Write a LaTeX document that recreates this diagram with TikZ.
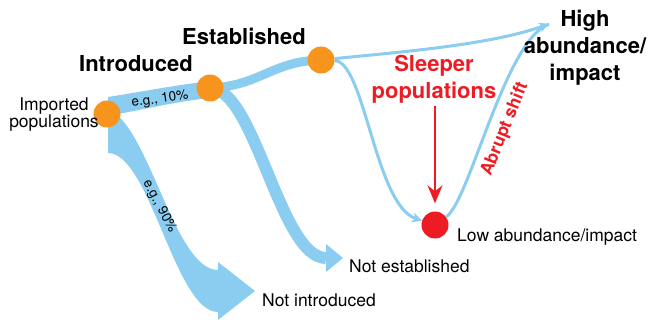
\documentclass[tikz,border=0pt]{standalone}
\usepackage{fontspec}
\setmainfont{TeX Gyre Heros}
\usetikzlibrary{arrows.meta,backgrounds}
\definecolor{bandblue}{RGB}{139,205,240}
\definecolor{dotorange}{RGB}{247,148,30}
\definecolor{dotred}{RGB}{237,28,36}
\begin{document}
\begin{tikzpicture}[x=1pt,y=-1pt,
  odot/.style={circle,fill=dotorange,inner sep=0pt,minimum size=27pt},
  rdot/.style={circle,fill=dotred,inner sep=0pt,minimum size=27pt},
  band/.style={fill=bandblue},
  thinline/.style={draw=bandblue,line width=3pt},
  thinarrow/.style={thinline,-{Stealth[length=10pt,width=10pt,inset=3pt]}},
  redarrow/.style={draw=dotred,line width=1.8pt,-{Stealth[length=18pt,width=15pt,inset=6pt]}},
  bigbold/.style={inner sep=0pt,font=\fontsize{22}{27}\selectfont\bfseries},
  redbold/.style={inner sep=0pt,text=dotred,font=\fontsize{22}{26.5}\selectfont\bfseries},
  smallred/.style={inner sep=0pt,text=dotred,font=\fontsize{17.5}{20}\selectfont\bfseries},
  med/.style={inner sep=0pt,font=\fontsize{17.5}{17}\selectfont},
  small/.style={inner sep=0pt,font=\fontsize{13.5}{15}\selectfont}]
\useasboundingbox (0,0) rectangle (651,326);
% dots
\node[odot] (imp) at (107,114) {};
\node[odot] (intro) at (210,88) {};
\node[odot] (est) at (321,60) {};
\node[rdot] (low) at (435,225) {};
\coordinate (hightip) at (549,24);
\coordinate (nitip) at (255,291);
\coordinate (netip) at (343,258);
% labels
\node[bigbold,anchor=base] (introlbl) at (136,72) {Introduced};
\node[bigbold,anchor=base] (estlbl) at (244,45) {Established};
\node[bigbold,align=center] (high) at (585,47.4) {High\\abundance/\\impact};
\node[redbold,align=center] (sleeper) at (434,79.4) {Sleeper\\populations};
\node[med,align=center] (implbl) at (54,115) {Imported\\populations};
\node[med,anchor=base west] (lowlbl) at (457,241) {Low abundance/impact};
\node[med,anchor=base west] (nelbl) at (349,272) {Not established};
\node[med,anchor=base west] (nilbl) at (262,306) {Not introduced};
\node[small,rotate=8] (ten) at (160,99.5) {e.g., 10\%};
\node[small,rotate=-62] (ninety) at (159.5,206.5) {e.g., 90\%};
\node[smallred,rotate=68] (abrupt) at (505,129) {Abrupt shift};
% red arrow
\draw[redarrow,shorten <=2.5pt,shorten >=8pt] (sleeper.south -| low) -- (low.north);
\begin{pgfonlayer}{background}
% big band: imported -> not introduced
\fill[band] (108,112) -- (108,153) .. controls (150,153) and (175,312) .. (218,312)
  -- (218,320) -- (nitip) -- (218,262) -- (218,270)
  .. controls (175,270) and (150,130) .. (110,110) -- cycle;
% imported -> introduced
\fill[band] (108,97) .. controls (140,92) and (170,86) .. (210,81) -- (210,98)
  .. controls (180,101) and (150,108) .. (108,116) -- cycle;
% introduced -> established
\draw[bandblue,line width=9pt] (intro.center) .. controls (260,86) and (272,61) .. (est.center);
% introduced -> not established
\draw[bandblue,line width=12pt] (intro.center) .. controls (255,88) and (280,258) .. (326,258);
\fill[band] (326,244) -- (netip) -- (326,272) -- cycle;
% thin lines
\draw[thinarrow] (est) .. controls (400,52) and (490,45) .. (hightip);
\draw[thinarrow] (est) .. controls (365,62) and (375,205) .. (low);
\draw[thinline] (low) .. controls (470,200) and (505,40) .. (hightip);
\end{pgfonlayer}
\end{tikzpicture}
\end{document}
